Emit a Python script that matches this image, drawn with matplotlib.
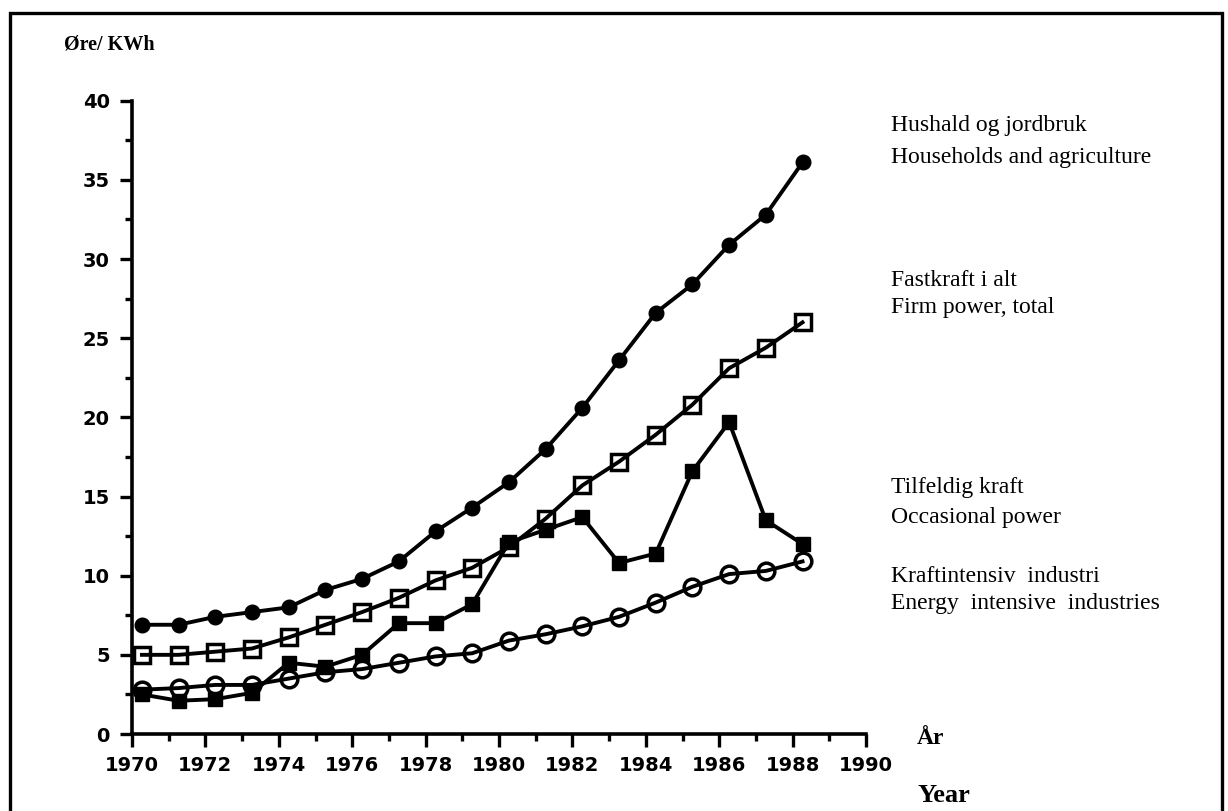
import matplotlib
matplotlib.use('Agg')
from matplotlib import pyplot as plt
from matplotlib.patches import Rectangle
from matplotlib.ticker import MultipleLocator
import numpy as np

YEARS = list(range(1970, 1989))
HOUSEHOLDS = [6.9, 6.9, 7.4, 7.7, 8.0, 9.1, 9.8, 10.9, 12.8, 14.3, 15.9, 18.0,
              20.6, 23.6, 26.6, 28.4, 30.9, 32.8, 36.1]
FIRM_POWER = [5.0, 5.0, 5.2, 5.4, 6.1, 6.9, 7.7, 8.6, 9.7, 10.5, 11.8, 13.6,
              15.7, 17.2, 18.9, 20.8, 23.1, 24.4, 26.0]
OCCASIONAL = [2.5, 2.1, 2.2, 2.6, 4.5, 4.25, 5.0, 7.0, 7.0, 8.2, 12.1, 12.9,
              13.7, 10.8, 11.4, 16.6, 19.7, 13.5, 12.0]
ENERGY_INT = [2.8, 2.9, 3.1, 3.1, 3.5, 3.9, 4.1, 4.5, 4.9, 5.1, 5.9, 6.3,
              6.8, 7.4, 8.3, 9.3, 10.1, 10.3, 10.9]

LABELS = [
    ('Hushald og jordbruk', 126),
    ('Households and agriculture', 158),
    ('Fastkraft i alt', 280),
    ('Firm power, total', 308),
    ('Tilfeldig kraft', 488),
    ('Occasional power', 517),
    ('Kraftintensiv  industri', 577),
    ('Energy  intensive  industries', 603),
]

W, H = 1228, 811
TICK_FONT = {'family': 'DejaVu Sans', 'weight': 'bold', 'size': 14}
SERIF = 'Liberation Serif'


def main():
    fig = plt.figure(figsize=(W / 100, H / 100), dpi=100)
    ax = fig.add_axes([132 / W, 1 - 734 / H, (866 - 132) / W, (734 - 100.7) / H])

    x = np.array(YEARS) + 0.27
    style = dict(color='black', lw=2.8, clip_on=False)
    ax.plot(x, ENERGY_INT, marker='o', ms=12, mfc='none', mew=2.5, **style)
    ax.plot(x, OCCASIONAL, marker='s', ms=9.5, mfc='black', mew=1, **style)
    ax.plot(x, FIRM_POWER, marker='s', ms=12, mfc='none', mew=2.5, **style)
    ax.plot(x, HOUSEHOLDS, marker='o', ms=10.5, mfc='black', mew=1, **style)

    ax.set_xlim(1970, 1990)
    ax.set_ylim(0, 40)
    ax.xaxis.set_major_locator(MultipleLocator(2))
    ax.xaxis.set_minor_locator(MultipleLocator(1))
    ax.yaxis.set_major_locator(MultipleLocator(5))
    ax.yaxis.set_minor_locator(MultipleLocator(2.5))
    for s in ['top', 'right']:
        ax.spines[s].set_visible(False)
    for s in ['left', 'bottom']:
        ax.spines[s].set_linewidth(2.6)
    ax.tick_params(which='major', direction='out', length=9, width=2.4)
    ax.tick_params(which='minor', direction='out', length=5, width=2.4)
    ax.tick_params(axis='x', which='major', pad=7)
    ax.tick_params(axis='y', which='major', pad=7)
    for lab in ax.get_xticklabels() + ax.get_yticklabels():
        lab.set_fontproperties(TICK_FONT)

    for txt, ypix in LABELS:
        fig.text(891 / W, 1 - ypix / H, txt, family=SERIF, fontsize=17,
                 va='center', ha='left')

    fig.text(64 / W, 1 - 44 / H, 'Øre/ KWh', family=SERIF, weight='bold',
             fontsize=14.5, va='center', ha='left')
    fig.text(917 / W, 1 - 738 / H, 'År', family=SERIF, weight='bold',
             fontsize=17, va='center', ha='left')
    fig.text(917 / W, 1 - 795 / H, 'Year', family=SERIF, weight='bold',
             fontsize=19, va='center', ha='left')

    # frame round the figure, open at the bottom edge
    fig.add_artist(Rectangle((10 / W, -0.02), (1222 - 10) / W, 1.02 - 13 / H,
                             transform=fig.transFigure, fill=False,
                             lw=2.4, ec='black'))

    fig.savefig('out.png', dpi=100)


if __name__ == '__main__':
    main()
